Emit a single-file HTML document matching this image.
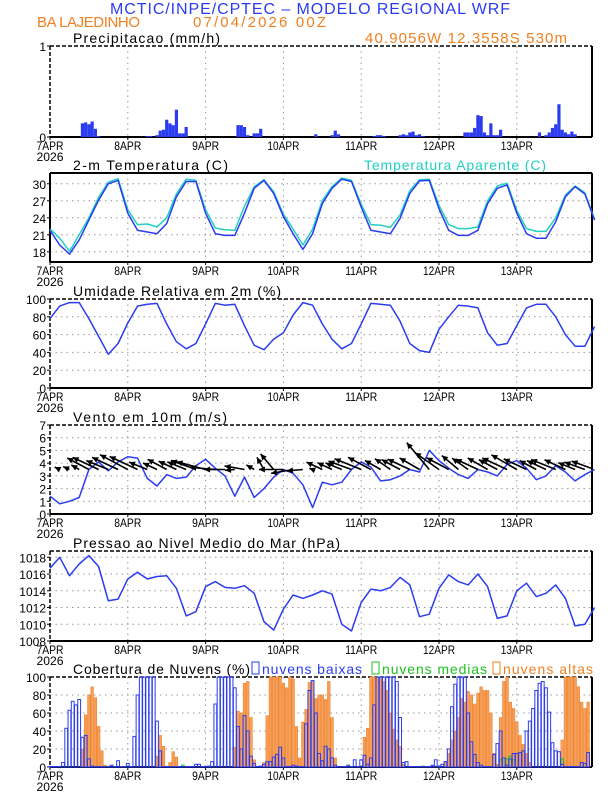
<!DOCTYPE html>
<html><head><meta charset="utf-8"><style>
body{margin:0;background:#fff}
svg{display:block}
text{font-family:"Liberation Sans",sans-serif}
</style></head><body>
<svg id="c" width="612" height="792" viewBox="0 0 612 792" xmlns="http://www.w3.org/2000/svg">
<text x="110" y="14" font-size="16" fill="#2b3cf0" textLength="400">MCTIC/INPE/CPTEC – MODELO REGIONAL WRF</text>
<text x="37" y="27" font-size="15" fill="#f08020" textLength="103">BA LAJEDINHO</text>
<text x="193" y="27" font-size="15" fill="#f08020" textLength="133">07/04/2026 00Z</text>
<text x="365" y="43" font-size="15" fill="#f08020" textLength="202">40.9056W 12.3558S 530m</text>
<text x="364" y="170" font-size="14" fill="#20d0c0" textLength="182">Temperatura Aparente (C)</text>
<rect x="252" y="662" width="7" height="12" fill="none" stroke="#2b3cf0"/>
<text x="262" y="674" font-size="14" fill="#2b3cf0" textLength="100">nuvens baixas</text>
<rect x="372" y="662" width="7" height="12" fill="none" stroke="#20c020"/>
<text x="382" y="674" font-size="14" fill="#20c020" textLength="105">nuvens medias</text>
<rect x="493" y="662" width="7" height="12" fill="none" stroke="#f08020"/>
<text x="503" y="674" font-size="14" fill="#f08020" textLength="90">nuvens altas</text>
</svg>
<script>
const dayLabels=["7APR","8APR","9APR","10APR","11APR","12APR","13APR"];
const precipHours=[10,11,12,13,14,15,30,31,33,34,35,36,37,38,39,40,41,42,58,59,60,61,63,64,65,82,87,88,89,100,101,102,103,108,109,110,111,112,113,114,115,128,129,130,131,132,133,134,135,136,137,138,139,151,153,154,155,156,157,158,159,160,161,162];
const precipValues=[0.15,0.16,0.14,0.17,0.09,0.01,0.01,0.01,0.02,0.07,0.08,0.19,0.15,0.13,0.30,0.04,0.04,0.11,0.13,0.13,0.11,0.02,0.04,0.04,0.09,0.03,0.02,0.07,0.03,0.01,0.02,0.02,0.01,0.02,0.03,0.02,0.05,0.06,0.02,0.03,0.01,0.05,0.05,0.05,0.10,0.24,0.23,0.05,0.02,0.15,0.02,0.02,0.08,0.05,0.02,0.05,0.10,0.14,0.36,0.08,0.05,0.03,0.06,0.03];
const temp=[21.8,19.2,17.6,20.1,23.6,27.1,30.0,30.6,24.8,21.8,21.5,21.2,23.0,27.7,30.4,30.4,24.8,21.2,20.9,20.9,24.8,29.2,30.6,28.3,24.2,21.2,18.4,21.2,26.5,29.2,30.8,30.4,25.9,21.8,21.5,21.2,23.9,28.3,30.5,30.6,25.6,21.8,20.9,20.9,21.8,26.5,29.2,29.8,24.8,21.2,20.4,20.4,23.3,27.7,29.5,28.2,23.6];
const tempAp=[22.0,20.4,18.1,21.0,24.0,27.6,30.3,30.9,25.4,22.8,22.9,22.4,24.0,28.2,30.8,30.6,25.4,22.2,21.9,21.8,26.0,29.5,30.7,28.6,24.6,22.0,19.2,22.0,27.0,29.5,31.0,30.6,26.4,22.8,22.7,22.3,24.5,28.8,30.7,30.8,26.2,22.8,22.1,22.1,22.4,27.0,29.6,30.1,25.3,22.1,21.6,21.6,24.0,28.0,29.6,28.4,23.7];
const rh=[78,92,96,96,78,58,38,50,73,92,94,95,72,52,44,50,72,95,93,94,70,48,43,55,62,82,96,93,72,55,44,50,72,95,94,93,75,50,42,40,66,80,93,92,90,62,48,50,70,90,94,94,80,60,47,47,69];
const windSpeed=[1.4,0.8,1.0,1.3,3.5,4.1,3.4,4.1,4.5,4.4,2.8,2.2,3.1,2.8,2.9,3.8,4.3,3.6,3.0,1.4,2.9,1.3,2.0,2.9,3.5,3.2,2.3,0.5,2.5,2.3,2.5,3.5,4.1,3.7,2.6,2.7,3.0,3.5,3.3,5.0,4.2,3.6,3.1,2.8,3.5,3.3,3.0,3.9,4.2,3.6,2.7,3.0,3.8,3.3,2.6,3.1,3.5];
const windDir=[120,115,115,120,118,115,112,115,118,115,112,115,118,115,112,110,105,95,90,85,100,120,150,140,90,80,85,110,115,115,112,110,112,118,120,125,118,115,120,140,125,118,130,125,115,120,118,115,120,115,118,115,112,115,112,110,110];
const pres=[1016.7,1018.0,1015.8,1017.2,1018.2,1016.9,1012.8,1013.0,1015.4,1016.2,1015.4,1015.7,1015.8,1014.3,1011.0,1011.5,1014.5,1015.1,1014.4,1014.3,1014.6,1013.7,1010.3,1009.3,1011.8,1013.5,1013.1,1013.5,1014.0,1013.6,1010.0,1009.2,1012.6,1014.2,1014.0,1014.4,1015.6,1014.7,1010.9,1011.2,1014.3,1015.9,1015.1,1014.7,1016.0,1014.5,1010.7,1011.0,1014.0,1014.9,1013.3,1013.7,1014.7,1013.1,1009.8,1010.0,1012.0];
const cloudLow=[0,0,0,0,5,43,63,73,69,75,33,35,9,1,0,0,0,0,0,2,0,7,0,0,4,0,34,80,100,100,100,100,100,51,18,0,0,0,0,0,0,0,0,0,0,3,3,0,0,1,6,70,100,100,100,100,100,88,45,20,57,40,12,4,0,1,3,6,6,11,14,22,10,0,0,2,1,0,0,48,85,96,60,15,7,23,20,10,2,0,0,0,2,0,8,0,8,13,3,10,69,100,100,100,100,100,100,95,55,5,6,0,0,0,0,0,0,0,2,8,1,3,6,20,67,92,100,100,100,60,28,14,5,2,0,0,0,14,26,40,10,2,9,15,15,16,18,40,51,65,85,93,95,88,61,27,18,17,3,0,0,0,0,0,5,4,16,18];
const cloudMid=[0,0,0,0,0,0,0,0,0,0,0,0,0,0,0,0,0,0,0,0,0,0,0,0,0,0,0,0,0,0,0,0,0,0,0,0,0,0,0,0,0,2,0,0,0,0,0,0,0,0,0,0,0,0,0,0,0,0,0,0,0,0,0,0,0,0,0,0,0,0,0,0,0,0,0,0,0,0,0,0,0,0,0,0,0,0,0,0,0,0,0,0,0,0,0,0,0,0,0,0,0,0,0,0,0,0,0,0,0,0,0,0,0,0,0,1,0,0,0,0,0,0,0,0,0,0,0,0,0,0,0,0,0,0,0,0,0,0,0,8,10,9,12,8,0,0,0,0,0,0,0,0,0,0,0,0,0,0,9,0,0,0,0,0,0,0,0,0,0];
const cloudHigh=[0,0,0,0,0,0,0,0,0,0,20,58,80,89,77,45,18,2,1,0,0,0,0,0,0,0,0,0,0,0,0,0,0,12,35,23,1,5,17,11,0,0,0,0,0,0,0,0,0,0,0,0,0,0,0,0,0,22,62,60,93,95,55,8,0,0,5,57,100,100,100,100,93,88,100,98,45,10,50,64,94,96,76,80,80,75,95,55,10,0,0,0,0,0,0,0,0,33,43,100,100,100,100,95,85,60,42,30,23,3,0,0,0,0,0,0,0,0,0,0,0,0,5,15,30,40,55,76,72,84,80,70,82,89,85,85,60,15,3,55,95,100,72,65,50,35,25,15,5,0,0,0,0,0,0,0,0,0,30,100,100,100,100,89,72,65,72,60,28];

const NS='http://www.w3.org/2000/svg';
const svg=document.getElementById('c');
const X0=50,DAY=77.8,XR=592;
function xh(h){return X0+h*DAY/24;}
function el(tag,attrs,parent){const e=document.createElementNS(NS,tag);for(const k in attrs)e.setAttribute(k,attrs[k]);(parent||svg).appendChild(e);return e;}
function panel(name,top,bot,ymin,ymax,ticks,title,titleLen,solid){
  const g=el('g',{});
  
  
  const ys=v=>bot-(v-ymin)/(ymax-ymin)*(bot-top);
  for(let d=1;d<7;d++){const l=el('line',{x1:xh(d*24),x2:xh(d*24),y1:top,y2:bot,stroke:'#999','stroke-dasharray':'1.5,4'},g);}
  ticks.forEach(t=>{
    if(t>ymin&&t<ymax){const l=el('line',{x1:X0,x2:XR,y1:ys(t),y2:ys(t),stroke:'#999','stroke-dasharray':'1.5,4'},g);}
    const tx=el('text',{x:X0-4,y:ys(t)+5,'font-size':12,'text-anchor':'end'},g);tx.textContent=t;
    
    el('line',{x1:X0-3,x2:X0,y1:ys(t),y2:ys(t),stroke:'#000'},g);
  });
  dayLabels.forEach((s,d)=>{
    const tx=el('text',{x:xh(d*24),y:bot+13,'font-size':12,'text-anchor':'middle',textLength:s.length>4?32:27,'lengthAdjust':'spacingAndGlyphs'},g);tx.textContent=s;
    
    el('line',{x1:xh(d*24),x2:xh(d*24),y1:bot,y2:bot+3,stroke:'#000'},g);
  });
  const yr=el('text',{x:X0,y:bot+24,'font-size':12,'text-anchor':'middle',textLength:27,'lengthAdjust':'spacingAndGlyphs'},g);yr.textContent='2026';
  
  const tt=el('text',{x:73,y:top-3,'font-size':14,textLength:titleLen},g);tt.textContent=title;
  
  const da=solid?'none':'4,2';
  el('line',{x1:X0,x2:XR,y1:top,y2:top,stroke:'#000','stroke-width':solid?2:1.5,'stroke-dasharray':da},g);
  el('line',{x1:X0,x2:X0,y1:top,y2:bot,stroke:'#000','stroke-width':solid?2:1.5,'stroke-dasharray':da},g);
  el('line',{x1:XR,x2:XR,y1:top,y2:bot,stroke:'#000','stroke-width':2},g);
  el('line',{x1:X0,x2:XR,y1:bot,y2:bot,stroke:'#000','stroke-width':2},g);
  return ys;
}
function line(arr,ys,color,name,step){
  const pts=arr.map((v,i)=>xh(i*step).toFixed(1)+','+ys(v).toFixed(1)).join(' ');
  const p=el('polyline',{points:pts,fill:'none',stroke:color,'stroke-width':1.5,'stroke-linejoin':'round'});
  
}
const clip=el('clipPath',{id:'cp'});el('rect',{x:X0,y:0,width:XR-X0,height:792},clip);

// precip
const yP=panel('precip',46,137,0,1,[0,1],'Precipitacao (mm/h)',147,false);
precipHours.forEach((h,i)=>{const r=el('rect',{x:xh(h)-1.6,y:yP(precipValues[i]),width:3.2,height:137-yP(precipValues[i]),fill:'#2b3cf0'});
});

// temp
const yT=panel('temperature',173,262,16.2,31.9,[18,21,24,27,30],'2-m Temperatura (C)',155,true);
line(tempAp,yT,'#20d0c0','apparent-temp-line',3);
line(temp,yT,'#2b3cf0','temp-line',3);

// RH
const yR=panel('humidity',299,388,0,100,[0,20,40,60,80,100],'Umidade Relativa em 2m (%)',208,false);
line(rh,yR,'#2b3cf0','humidity-line',3);

// wind
const yW=panel('wind',425,514,0,7,[0,1,2,3,4,5,6,7],'Vento em 10m (m/s)',154,false);
line(windSpeed,yW,'#2b3cf0','wind-speed-line',3);
windSpeed.forEach((s,i)=>{
  const bx=xh(i*3),by=yW(3.5);
  const a=(windDir[i]+180)*Math.PI/180,L=s*7;
  const tx=bx+Math.sin(a)*L,ty=by-Math.cos(a)*L;
  const g=el('g',{'clip-path':'url(#cp)'});
  
  el('line',{x1:bx,y1:by,x2:tx,y2:ty,stroke:'#000','stroke-width':1.6},g);
  const ux=(bx-tx)/L,uy=(by-ty)/L;
  const p1x=tx+ux*6-uy*3,p1y=ty+uy*6+ux*3,p2x=tx+ux*6+uy*3,p2y=ty+uy*6-ux*3;
  el('polygon',{points:`${tx},${ty} ${p1x},${p1y} ${p2x},${p2y}`,fill:'#000'},g);
});

// pressure
const yPr=panel('pressure',551,641,1008,1018.75,[1008,1010,1012,1014,1016,1018],'Pressao ao Nivel Medio do Mar (hPa)',267,false);
line(pres,yPr,'#2b3cf0','pressure-line',3);

// clouds
const yC=panel('clouds',677,767,0,100,[0,20,40,60,80,100],'Cobertura de Nuvens (%)',177,false);
cloudHigh.forEach((v,h)=>{if(v>0&&h<167){const r=el('rect',{x:xh(h)-1.3,y:yC(v),width:2.6,height:767-yC(v),fill:'#f5a060',stroke:'#f08020','stroke-width':0.6});
}});
cloudMid.forEach((v,h)=>{if(v>0){const r=el('rect',{x:xh(h)-1.3,y:yC(v),width:2.6,height:767-yC(v),fill:'none',stroke:'#20c020','stroke-width':1});
}});
cloudLow.forEach((v,h)=>{if(h<167){const r=el('rect',{x:xh(h)-1.4,y:yC(Math.max(v,0.5)),width:2.8,height:767-yC(Math.max(v,0.5)),fill:'none',stroke:'#2b3cf0','stroke-width':1});
}});
</script>
</body></html>
